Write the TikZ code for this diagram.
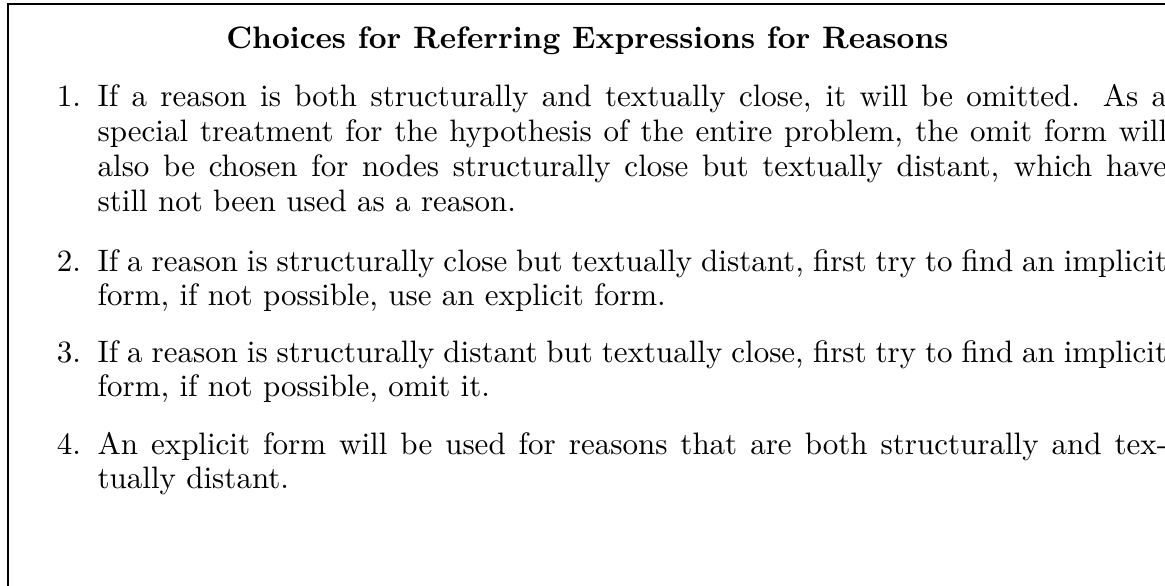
\documentclass[tikz,border=0pt]{standalone}
\tikzset{
  frameline/.style={line width=0.6pt, line cap=rect},
  heading/.style={anchor=base, inner sep=0pt, font=\bfseries},
  itemtext/.style={anchor=base west, inner sep=0pt, text width=345pt, align=justify,
                   font={\fontsize{10pt}{11.2pt}\selectfont}},
  itemlabel/.style={anchor=base east, inner sep=0pt}
}
\begin{document}
\begin{tikzpicture}
  % page area, origin at the top-left corner
  \clip (0pt,0pt) rectangle (375.8pt,-189pt);
  \useasboundingbox (0pt,0pt) rectangle (375.8pt,-189pt);

  % frame around the list (continues past the page edges)
  \coordinate (frameTL) at (2.6pt,-1.3pt);
  \coordinate (frameBL) at (2.6pt,-200pt);
  \coordinate (frameTR) at (400pt,-1.3pt);
  \draw[frameline] (frameBL) -- (frameTL) -- (frameTR);

  \node[heading] (title) at (189.5pt,-15.5pt)
    {Choices for Referring Expressions for Reasons};

  \node[itemtext] (item1) at (31.3pt,-34.5pt)
    {If a reason is both structurally and textually close, it will be omitted. As a\linebreak
     special treatment for the hypothesis of the entire problem, the omit form will\linebreak
     also be chosen for nodes structurally close but textually distant, which have\linebreak
     still not been used as a reason.};
  \node[itemlabel] (lab1) at (26.3pt,-34.5pt) {1.};

  \node[itemtext] (item2) at (31.3pt,-87.5pt)
    {If a reason is structurally close but textually distant, first try to find an implicit\linebreak
     form, if not possible, use an explicit form.};
  \node[itemlabel] (lab2) at (26.3pt,-87.5pt) {2.};

  \node[itemtext] (item3) at (31.3pt,-116.8pt)
    {If a reason is structurally distant but textually close, first try to find an implicit\linebreak
     form, if not possible, omit it.};
  \node[itemlabel] (lab3) at (26.3pt,-116.8pt) {3.};

  \node[itemtext] (item4) at (31.3pt,-146.5pt)
    {An explicit form will be used for reasons that are both structurally and tex-\linebreak
     tually distant.};
  \node[itemlabel] (lab4) at (26.3pt,-146.5pt) {4.};
\end{tikzpicture}
\end{document}
